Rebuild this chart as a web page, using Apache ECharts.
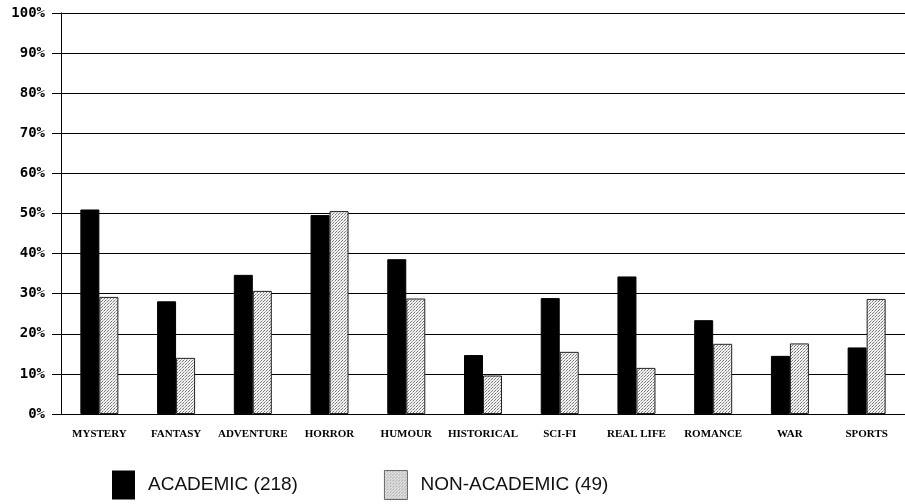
<!DOCTYPE html>
<html>
<head>
<meta charset="utf-8">
<script src="https://cdn.jsdelivr.net/npm/echarts@6/dist/echarts.min.js"></script>
<style>html,body{margin:0;padding:0;background:#fff}#c{width:905px;height:504px}</style>
</head>
<body>
<div id="c"></div>
<script>
const categories = ['MYSTERY','FANTASY','ADVENTURE','HORROR','HUMOUR','HISTORICAL','SCI-FI','REAL LIFE','ROMANCE','WAR','SPORTS'];
const academic = [51.0, 28.1, 34.7, 49.6, 38.6, 14.7, 28.9, 34.3, 23.4, 14.5, 16.6];
const nonAcademic = [29.2, 14.0, 30.7, 50.6, 28.8, 9.6, 15.5, 11.5, 17.5, 17.6, 28.7];
const seriesNames = ['ACADEMIC (218)', 'NON-ACADEMIC (49)'];

// dotted pattern
const pc = document.createElement('canvas');
pc.width = 3; pc.height = 3;
const pctx = pc.getContext('2d');
pctx.fillStyle = '#f2f2f2';
pctx.fillRect(0,0,3,3);
pctx.fillStyle = '#7a7a7a';
pctx.fillRect(0,0,1,1);
pctx.fillRect(2,1,1,1);
pctx.fillStyle = '#b8b8b8';
pctx.fillRect(1,2,1,1);
const dotted = {image: pc, repeat: 'repeat'};

const chart = echarts.init(document.getElementById('c'), null, {renderer:'canvas'});
chart.setOption({
  animation: false,
  backgroundColor: '#fff',
  grid: {left: 61, top: 13, width: 850, height: 401, containLabel: false},
  legend: {
    left: 112, top: 470, padding: 0,
    itemWidth: 23, itemHeight: 29, itemGap: 86,
    textStyle: {fontFamily: 'Liberation Sans', fontSize: 19, color: '#111', padding: [0,0,0,8]},
    data: [
      {name: seriesNames[0], icon: 'rect', itemStyle: {color: '#000', borderWidth: 0}},
      {name: seriesNames[1], icon: 'rect', itemStyle: {color: dotted, borderColor: '#666', borderWidth: 1}}
    ]
  },
  xAxis: {
    type: 'category', data: categories, boundaryGap: true,
    axisLine: {lineStyle: {color: '#000', width: 1}},
    axisTick: {alignWithLabel: true, length: 5, lineStyle: {color: '#000'}},
    axisLabel: {interval: 0, margin: 15, fontFamily: 'Liberation Serif', fontWeight: 'bold', fontSize: 11, color: '#000'}
  },
  yAxis: {
    type: 'value', min: 0, max: 100, interval: 10,
    axisLine: {show: true, lineStyle: {color: '#000', width: 1}},
    axisTick: {show: true, length: 9, lineStyle: {color: '#000'}},
    axisLabel: {formatter: '{value}%', margin: 16, fontFamily: 'DejaVu Sans Mono', fontWeight: 'bold', fontSize: 14, color: '#000'},
    splitLine: {show: true, lineStyle: {color: '#000', width: 1}}
  },
  series: [
    {name: seriesNames[0], type: 'bar', data: academic, barWidth: 19, barGap: '0%',
     itemStyle: {color: '#000', borderColor: '#000', borderWidth: 1}},
    {name: seriesNames[1], type: 'bar', data: nonAcademic, barWidth: 19, barGap: '0%',
     itemStyle: {color: dotted, borderColor: '#222', borderWidth: 1}}
  ]
});
</script>
</body>
</html>
